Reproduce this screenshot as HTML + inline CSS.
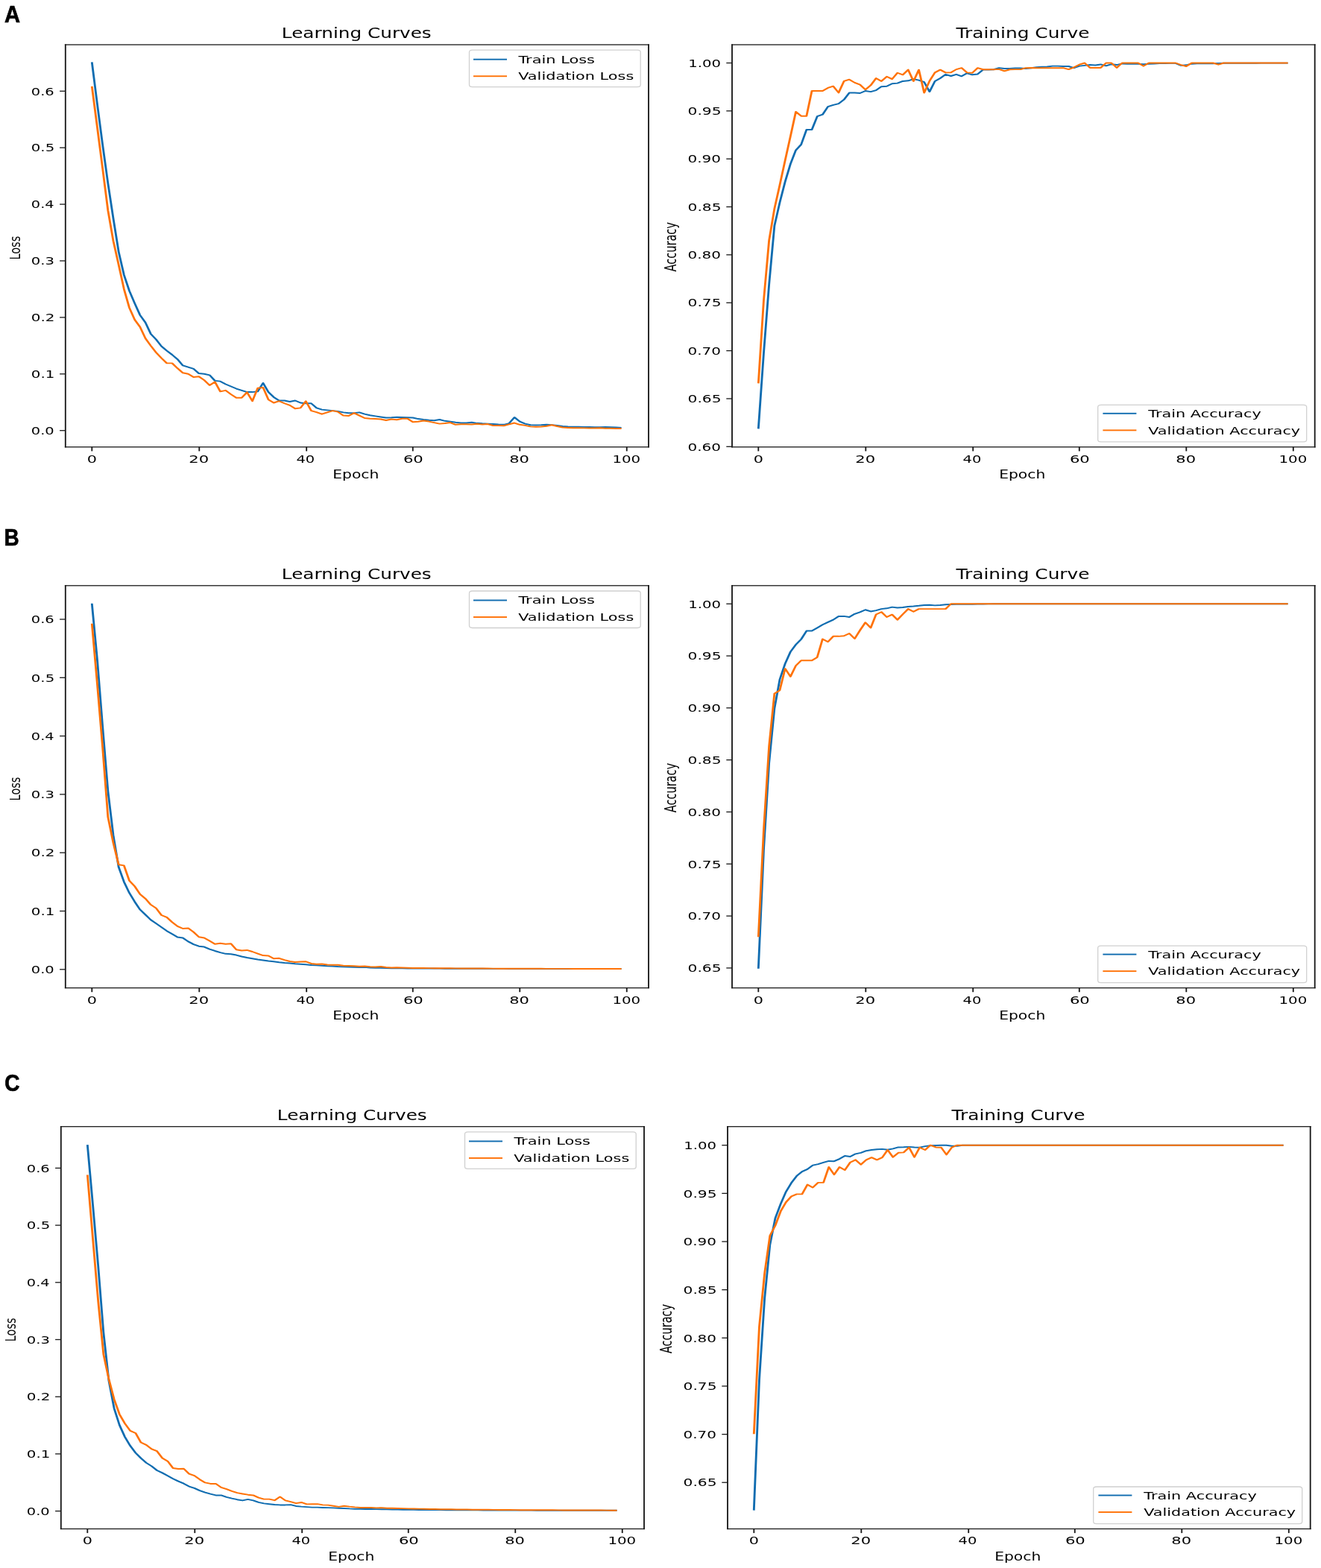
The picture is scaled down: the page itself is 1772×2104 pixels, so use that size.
<!DOCTYPE html>
<html lang="en">
<head>
<meta charset="utf-8">
<title>Learning Curves and Training Curves</title>
<style>
html, body { margin: 0; padding: 0; background: #fff; }
svg { display: block; filter: blur(0.45px); }
svg text { font-family: "DejaVu Sans", "Liberation Sans", sans-serif; fill: #000; }
svg text.lab { font-family: "Liberation Sans", Arial, sans-serif; font-weight: bold; font-size: 31px; stroke: #000; stroke-width: 0.7px; stroke-linejoin: miter; }
</style>
</head>
<body>
<svg width="1772" height="2104" viewBox="0 0 1772 2104">
<rect width="1772" height="2104" fill="#fff"/>
<g>
<g transform="scale(2.85 1.95)" fill="none" stroke-width="1" stroke-linejoin="round" stroke-linecap="butt">
<polyline stroke="#0f6cb0" points="43.26,42.75 45.78,71.67 48.30,99.69 50.82,126.16 53.33,150.29 55.85,173.26 58.37,189.22 60.88,200.12 63.40,208.68 65.92,216.85 68.44,221.91 70.95,229.70 73.47,233.59 75.99,238.26 78.51,241.37 81.02,244.10 83.54,247.21 86.06,251.49 88.58,252.66 91.09,253.83 93.61,256.94 96.13,257.33 98.65,258.11 101.16,262.00 103.68,262.39 106.20,264.34 108.71,265.90 111.23,267.45 113.75,268.62 116.27,269.79 118.78,269.79 121.30,269.40 123.82,263.56 126.34,269.79 128.85,273.29 131.37,275.63 133.89,275.63 136.41,276.41 138.92,275.63 141.44,277.18 143.96,277.57 146.48,277.57 148.99,280.69 151.51,281.85 154.03,282.24 156.54,282.63 159.06,283.02 161.58,283.80 164.10,284.19 166.61,284.19 169.13,283.80 171.65,284.97 174.17,285.75 176.68,286.33 179.20,286.91 181.72,287.46 184.24,287.30 186.75,287.07 189.27,287.19 191.79,287.30 194.31,287.46 196.82,288.24 199.34,288.74 201.86,289.13 204.37,289.37 206.89,288.74 209.41,289.64 211.93,290.15 214.44,290.65 216.96,291.04 219.48,291.04 222.00,290.65 224.51,291.20 227.03,291.43 229.55,291.59 232.07,291.82 234.58,292.05 237.10,292.21 239.62,291.31 242.14,287.19 244.65,290.03 247.17,291.59 249.69,292.44 252.20,292.56 254.72,292.44 257.24,292.21 259.76,292.36 262.27,292.83 264.79,293.34 267.31,293.61 269.83,293.69 272.34,293.73 274.86,293.77 277.38,293.84 279.90,293.92 282.41,293.92 284.93,293.84 287.45,294.00 289.97,294.15 292.48,294.31"/>
<polyline stroke="#ff7207" points="43.26,59.41 45.78,87.63 48.30,116.04 50.82,144.85 53.33,165.86 55.85,182.21 58.37,198.95 60.88,211.79 63.40,219.97 65.92,225.03 68.44,232.81 70.95,237.87 73.47,242.54 75.99,246.43 78.51,249.94 81.02,249.94 83.54,253.44 86.06,256.55 88.58,257.33 91.09,259.47 93.61,259.08 96.13,261.61 98.65,265.12 101.16,262.78 103.68,269.40 106.20,268.62 108.71,271.35 111.23,273.68 113.75,273.68 116.27,269.94 118.78,276.02 121.30,267.06 123.82,266.67 126.34,275.04 128.85,277.18 131.37,276.02 133.89,277.57 136.41,278.90 138.92,281.19 141.44,280.69 143.96,276.02 146.48,282.63 148.99,283.61 151.51,284.97 154.03,283.80 156.54,282.63 159.06,283.41 161.58,285.94 164.10,286.14 166.61,284.19 169.13,285.94 171.65,287.69 174.17,288.08 176.68,288.24 179.20,288.47 181.72,289.25 184.24,288.47 186.75,288.86 189.27,288.08 191.79,288.08 194.31,290.42 196.82,290.15 199.34,289.52 201.86,290.03 204.37,290.81 206.89,291.59 209.41,291.31 211.93,290.81 214.44,292.21 216.96,291.97 219.48,291.97 222.00,292.05 224.51,291.66 227.03,292.05 229.55,291.82 232.07,292.83 234.58,292.83 237.10,292.95 239.62,291.97 242.14,291.04 244.65,292.21 247.17,292.75 249.69,293.53 252.20,293.73 254.72,293.61 257.24,293.22 259.76,292.44 262.27,293.34 264.79,294.12 267.31,294.31 269.83,294.47 272.34,294.50 274.86,294.54 277.38,294.58 279.90,294.62 282.41,294.50 284.93,294.70 287.45,294.78 289.97,294.86 292.48,294.89"/>
</g>
<rect x="86.88" y="59.35" width="1.85" height="541.1" fill="#1a1a1a"/>
<rect x="869.08" y="59.35" width="1.85" height="541.1" fill="#1a1a1a"/>
<rect x="86.88" y="59.35" width="784.05" height="1.3" fill="#1a1a1a"/>
<rect x="86.88" y="599.15" width="784.05" height="1.3" fill="#1a1a1a"/>
<rect x="122.38" y="599.8" width="1.85" height="5.6" fill="#1a1a1a"/>
<text transform="translate(116.72 620.7) scale(1.4950 0.9901)" font-size="13.89">0</text>
<rect x="266.37" y="599.8" width="1.85" height="5.6" fill="#1a1a1a"/>
<text transform="translate(253.31 620.7) scale(1.5234 0.9901)" font-size="13.89">20</text>
<rect x="410.25" y="599.8" width="1.85" height="5.6" fill="#1a1a1a"/>
<text transform="translate(397.48 620.7) scale(1.4023 0.9901)" font-size="13.89">40</text>
<rect x="552.85" y="599.8" width="1.85" height="5.6" fill="#1a1a1a"/>
<text transform="translate(540.89 620.7) scale(1.5234 0.9901)" font-size="13.89">60</text>
<rect x="696.34" y="599.8" width="1.85" height="5.6" fill="#1a1a1a"/>
<text transform="translate(683.23 620.7) scale(1.5144 0.9901)" font-size="13.89">80</text>
<rect x="839.83" y="599.8" width="1.85" height="5.6" fill="#1a1a1a"/>
<text transform="translate(821.42 620.7) scale(1.4262 0.9901)" font-size="13.89">100</text>
<rect x="80.1" y="577.05" width="7.7" height="1.3" fill="#1a1a1a"/>
<text transform="translate(41.83 582.9) scale(1.3993 0.9901)" font-size="13.89">0.0</text>
<rect x="80.1" y="501.15" width="7.7" height="1.3" fill="#1a1a1a"/>
<text transform="translate(41.8 507) scale(1.4277 0.9901)" font-size="13.89">0.1</text>
<rect x="80.1" y="425.25" width="7.7" height="1.3" fill="#1a1a1a"/>
<text transform="translate(41.79 431.1) scale(1.4352 0.9901)" font-size="13.89">0.2</text>
<rect x="80.1" y="349.35" width="7.7" height="1.3" fill="#1a1a1a"/>
<text transform="translate(41.83 355.2) scale(1.4128 0.9901)" font-size="13.89">0.3</text>
<rect x="80.1" y="273.45" width="7.7" height="1.3" fill="#1a1a1a"/>
<text transform="translate(41.85 279.3) scale(1.3918 0.9901)" font-size="13.89">0.4</text>
<rect x="80.1" y="197.55" width="7.7" height="1.3" fill="#1a1a1a"/>
<text transform="translate(41.82 203.4) scale(1.4203 0.9901)" font-size="13.89">0.5</text>
<rect x="80.1" y="121.65" width="7.7" height="1.3" fill="#1a1a1a"/>
<text transform="translate(41.83 127.5) scale(1.3993 0.9901)" font-size="13.89">0.6</text>
<text transform="translate(377.83 50.8) scale(1.4830 1.1627)" font-size="16.67">Learning Curves</text>
<text transform="translate(446.22 642.4) scale(1.4606 1.0785)" font-size="13.89">Epoch</text>
<text transform="translate(27.3 348.62) rotate(-90) scale(1.0459 1.4516)" font-size="13.89">Loss</text>
<rect x="629.5" y="67.2" width="229.7" height="49.5" rx="4.1" ry="2.9" fill="#fff" fill-opacity="0.8" stroke="#d0d0d0" stroke-width="1.3"/>
<rect x="635" y="78.75" width="45" height="1.9" fill="#0f6cb0"/>
<text transform="translate(695.4 84.6) scale(1.5055 1.0174)" font-size="13.89">Train Loss</text>
<rect x="635" y="101.3" width="45" height="1.9" fill="#ff7207"/>
<text transform="translate(695.25 107.15) scale(1.4995 1.0174)" font-size="13.89">Validation Loss</text>
</g>
<g>
<g transform="scale(2.85 1.95)" fill="none" stroke-width="1" stroke-linejoin="round" stroke-linecap="butt">
<polyline stroke="#0f6cb0" points="356.95,295.06 359.46,242.92 361.98,195.79 364.50,155.47 367.02,139.30 369.54,124.98 372.05,112.83 374.57,103.39 377.09,99.43 379.61,89.27 382.12,89.27 384.64,80.10 387.16,78.84 389.68,73.43 392.19,72.24 394.71,71.32 397.23,68.55 399.75,63.86 402.26,63.86 404.78,64.12 407.30,62.54 409.82,63.13 412.33,62.14 414.85,59.57 417.37,59.37 419.89,57.59 422.40,57.26 424.92,55.87 427.44,55.54 429.96,54.42 432.47,55.21 434.99,56.53 437.51,63.13 440.03,55.87 442.54,53.83 445.06,51.19 447.58,52.31 450.10,51.19 452.61,52.44 455.13,50.40 457.65,51.45 460.17,50.99 462.68,48.02 465.20,48.02 467.72,47.82 470.24,46.77 472.75,47.16 475.27,47.16 477.79,46.90 480.31,46.90 482.82,47.16 485.34,46.77 487.86,46.30 490.38,46.04 492.89,45.91 495.41,45.45 497.93,45.45 500.45,45.64 502.96,45.64 505.48,46.77 508.00,45.45 510.52,45.05 513.04,44.65 515.55,44.85 518.07,44.32 520.59,45.31 523.11,44.19 525.62,44.65 528.14,43.80 530.66,43.99 533.18,43.99 535.69,43.99 538.21,44.19 540.73,43.93 543.25,43.80 545.76,43.66 548.28,43.60 550.80,43.53 553.32,43.53 555.83,45.05 558.35,44.79 560.87,43.93 563.39,43.73 565.90,43.73 568.42,43.73 570.94,43.73 573.46,43.53 575.97,43.47 578.49,43.47 581.01,43.47 583.53,43.47 586.04,43.47 588.56,43.47 591.08,43.47 593.60,43.40 596.11,43.40 598.63,43.40 601.15,43.40 603.67,43.40 606.18,43.40"/>
<polyline stroke="#ff7207" points="356.95,263.77 359.46,206.68 361.98,165.43 364.50,143.65 367.02,127.29 369.54,110.32 372.05,93.76 374.57,76.93 377.09,79.83 379.61,79.83 382.12,62.54 384.64,62.54 387.16,62.54 389.68,60.49 392.19,59.31 394.71,63.79 397.23,55.87 399.75,54.69 402.26,56.86 404.78,58.25 407.30,61.68 409.82,58.71 412.33,53.83 414.85,55.87 417.37,52.71 419.89,54.42 422.40,50.13 424.92,51.45 427.44,48.02 429.96,55.87 432.47,48.02 434.99,63.86 437.51,55.74 440.03,49.93 442.54,48.02 445.06,49.93 447.58,49.93 450.10,47.76 452.61,46.77 455.13,49.93 457.65,50.13 460.17,46.77 462.68,47.82 465.20,47.82 467.72,47.82 470.24,47.62 472.75,48.88 475.27,47.82 477.79,47.76 480.31,47.76 482.82,46.77 485.34,46.63 487.86,46.77 490.38,46.77 492.89,46.77 495.41,46.77 497.93,46.77 500.45,46.77 502.96,47.76 505.48,46.30 508.00,44.46 510.52,43.33 513.04,46.63 515.55,46.63 518.07,46.63 520.59,43.33 523.11,43.33 525.62,46.63 528.14,43.33 530.66,43.33 533.18,43.33 535.69,43.33 538.21,45.45 540.73,43.33 543.25,43.33 545.76,43.33 548.28,43.33 550.80,43.33 553.32,43.33 555.83,44.65 558.35,45.64 560.87,43.33 563.39,43.33 565.90,43.33 568.42,43.33 570.94,43.33 573.46,44.46 575.97,43.33 578.49,43.33 581.01,43.33 583.53,43.33 586.04,43.33 588.56,43.33 591.08,43.33 593.60,43.33 596.11,43.33 598.63,43.33 601.15,43.33 603.67,43.33 606.18,43.33"/>
</g>
<rect x="981.08" y="59.35" width="1.85" height="541.1" fill="#1a1a1a"/>
<rect x="1762.78" y="59.35" width="1.85" height="541.1" fill="#1a1a1a"/>
<rect x="981.08" y="59.35" width="783.55" height="1.3" fill="#1a1a1a"/>
<rect x="981.08" y="599.15" width="783.55" height="1.3" fill="#1a1a1a"/>
<rect x="1016.38" y="599.8" width="1.85" height="5.6" fill="#1a1a1a"/>
<text transform="translate(1010.72 620.7) scale(1.4950 0.9901)" font-size="13.89">0</text>
<rect x="1160.38" y="599.8" width="1.85" height="5.6" fill="#1a1a1a"/>
<text transform="translate(1147.32 620.7) scale(1.5234 0.9901)" font-size="13.89">20</text>
<rect x="1304.28" y="599.8" width="1.85" height="5.6" fill="#1a1a1a"/>
<text transform="translate(1291.5 620.7) scale(1.4023 0.9901)" font-size="13.89">40</text>
<rect x="1446.88" y="599.8" width="1.85" height="5.6" fill="#1a1a1a"/>
<text transform="translate(1434.92 620.7) scale(1.5234 0.9901)" font-size="13.89">60</text>
<rect x="1590.38" y="599.8" width="1.85" height="5.6" fill="#1a1a1a"/>
<text transform="translate(1577.27 620.7) scale(1.5144 0.9901)" font-size="13.89">80</text>
<rect x="1733.88" y="599.8" width="1.85" height="5.6" fill="#1a1a1a"/>
<text transform="translate(1715.47 620.7) scale(1.4262 0.9901)" font-size="13.89">100</text>
<rect x="974.3" y="598.65" width="7.7" height="1.3" fill="#1a1a1a"/>
<text transform="translate(922.55 604.5) scale(1.4382 0.9901)" font-size="13.89">0.60</text>
<rect x="974.3" y="534.3" width="7.7" height="1.3" fill="#1a1a1a"/>
<text transform="translate(922.54 540.15) scale(1.4531 0.9901)" font-size="13.89">0.65</text>
<rect x="974.3" y="469.95" width="7.7" height="1.3" fill="#1a1a1a"/>
<text transform="translate(922.55 475.8) scale(1.4382 0.9901)" font-size="13.89">0.70</text>
<rect x="974.3" y="405.6" width="7.7" height="1.3" fill="#1a1a1a"/>
<text transform="translate(922.54 411.45) scale(1.4531 0.9901)" font-size="13.89">0.75</text>
<rect x="974.3" y="341.25" width="7.7" height="1.3" fill="#1a1a1a"/>
<text transform="translate(922.55 347.1) scale(1.4382 0.9901)" font-size="13.89">0.80</text>
<rect x="974.3" y="276.9" width="7.7" height="1.3" fill="#1a1a1a"/>
<text transform="translate(922.54 282.75) scale(1.4531 0.9901)" font-size="13.89">0.85</text>
<rect x="974.3" y="212.55" width="7.7" height="1.3" fill="#1a1a1a"/>
<text transform="translate(922.55 218.4) scale(1.4382 0.9901)" font-size="13.89">0.90</text>
<rect x="974.3" y="148.2" width="7.7" height="1.3" fill="#1a1a1a"/>
<text transform="translate(922.54 154.05) scale(1.4531 0.9901)" font-size="13.89">0.95</text>
<rect x="974.3" y="83.85" width="7.7" height="1.3" fill="#1a1a1a"/>
<text transform="translate(923.23 89.7) scale(1.4158 0.9901)" font-size="13.89">1.00</text>
<text transform="translate(1282.44 50.8) scale(1.4905 1.1627)" font-size="16.67">Training Curve</text>
<text transform="translate(1340.17 642.4) scale(1.4606 1.0785)" font-size="13.89">Epoch</text>
<text transform="translate(906.8 364.4) rotate(-90) scale(1.0459 1.4950)" font-size="13.89">Accuracy</text>
<rect x="1472.7" y="543.3" width="280" height="49.6" rx="4.1" ry="2.9" fill="#fff" fill-opacity="0.8" stroke="#d0d0d0" stroke-width="1.3"/>
<rect x="1479.4" y="553.85" width="45" height="1.9" fill="#0f6cb0"/>
<text transform="translate(1540.3 560.1) scale(1.4995 1.0353)" font-size="13.89">Train Accuracy</text>
<rect x="1479.4" y="576.4" width="45" height="1.9" fill="#ff7207"/>
<text transform="translate(1540.15 582.65) scale(1.4965 1.0353)" font-size="13.89">Validation Accuracy</text>
</g>
<g>
<g transform="scale(2.85 1.95)" fill="none" stroke-width="1" stroke-linejoin="round" stroke-linecap="butt">
<polyline stroke="#0f6cb0" points="43.26,415.27 45.78,454.06 48.30,500.04 50.82,544.37 53.33,574.84 55.85,596.69 58.37,606.85 60.88,614.48 63.40,620.50 65.92,625.92 68.44,629.45 70.95,632.95 73.47,635.44 75.99,638.01 78.51,640.58 81.02,642.70 83.54,644.87 86.06,645.39 88.58,647.88 91.09,649.81 93.61,651.14 96.13,651.58 98.65,653.10 101.16,654.35 103.68,655.43 106.20,656.32 108.71,656.56 111.23,657.20 113.75,658.20 116.27,658.97 118.78,659.61 121.30,660.25 123.82,660.77 126.34,661.29 128.85,661.66 131.37,662.18 133.89,662.58 136.41,662.82 138.92,663.22 141.44,663.46 143.96,663.70 146.48,664.11 148.99,664.23 151.51,664.51 154.03,664.75 156.54,664.87 159.06,665.11 161.58,665.27 164.10,665.39 166.61,665.51 169.13,665.63 171.65,665.51 174.17,665.87 176.68,666.03 179.20,666.03 181.72,666.15 184.24,666.27 186.75,666.30 189.27,666.33 191.79,666.36 194.31,666.39 196.82,666.41 199.34,666.43 201.86,666.44 204.37,666.46 206.89,666.47 209.41,666.49 211.93,666.51 214.44,666.52 216.96,666.54 219.48,666.55 222.00,666.56 224.51,666.57 227.03,666.58 229.55,666.59 232.07,666.60 234.58,666.60 237.10,666.61 239.62,666.62 242.14,666.63 244.65,666.64 247.17,666.64 249.69,666.64 252.20,666.64 254.72,666.64 257.24,666.65 259.76,666.65 262.27,666.65 264.79,666.65 267.31,666.65 269.83,666.66 272.34,666.66 274.86,666.66 277.38,666.66 279.90,666.66 282.41,666.67 284.93,666.67 287.45,666.67 289.97,666.67 292.48,666.68"/>
<polyline stroke="#ff7207" points="43.26,429.09 45.78,470.72 48.30,514.49 50.82,562.28 53.33,580.02 55.85,595.00 58.37,595.60 60.88,606.04 63.40,609.86 65.92,615.28 68.44,618.37 70.95,622.51 73.47,624.92 75.99,629.73 78.51,631.18 81.02,634.55 83.54,637.40 86.06,638.97 88.58,638.69 91.09,641.38 93.61,644.75 96.13,645.39 98.65,647.44 101.16,649.61 103.68,649.09 106.20,649.61 108.71,649.37 111.23,653.46 113.75,654.11 116.27,653.83 118.78,654.87 121.30,656.16 123.82,657.44 126.34,657.68 128.85,659.61 131.37,659.37 133.89,660.53 136.41,661.54 138.92,662.06 141.44,661.78 143.96,661.66 146.48,663.06 148.99,663.46 151.51,663.34 154.03,663.86 156.54,663.99 159.06,663.99 161.58,664.51 164.10,664.63 166.61,664.75 169.13,664.99 171.65,664.87 174.17,665.27 176.68,665.39 179.20,665.11 181.72,665.63 184.24,665.87 186.75,665.75 189.27,665.87 191.79,666.03 194.31,666.15 196.82,666.18 199.34,666.20 201.86,666.23 204.37,666.25 206.89,666.27 209.41,666.30 211.93,666.32 214.44,666.35 216.96,666.37 219.48,666.39 222.00,666.41 224.51,666.43 227.03,666.44 229.55,666.46 232.07,666.47 234.58,666.49 237.10,666.51 239.62,666.52 242.14,666.54 244.65,666.55 247.17,666.56 249.69,666.57 252.20,666.57 254.72,666.58 257.24,666.59 259.76,666.59 262.27,666.60 264.79,666.61 267.31,666.61 269.83,666.62 272.34,666.62 274.86,666.63 277.38,666.64 279.90,666.64 282.41,666.65 284.93,666.66 287.45,666.66 289.97,666.67 292.48,666.68"/>
</g>
<rect x="86.88" y="785.15" width="1.85" height="541.1" fill="#1a1a1a"/>
<rect x="869.08" y="785.15" width="1.85" height="541.1" fill="#1a1a1a"/>
<rect x="86.88" y="785.15" width="784.05" height="1.3" fill="#1a1a1a"/>
<rect x="86.88" y="1324.95" width="784.05" height="1.3" fill="#1a1a1a"/>
<rect x="122.38" y="1325.6" width="1.85" height="5.6" fill="#1a1a1a"/>
<text transform="translate(116.72 1346.5) scale(1.4950 0.9901)" font-size="13.89">0</text>
<rect x="266.37" y="1325.6" width="1.85" height="5.6" fill="#1a1a1a"/>
<text transform="translate(253.31 1346.5) scale(1.5234 0.9901)" font-size="13.89">20</text>
<rect x="410.25" y="1325.6" width="1.85" height="5.6" fill="#1a1a1a"/>
<text transform="translate(397.48 1346.5) scale(1.4023 0.9901)" font-size="13.89">40</text>
<rect x="552.85" y="1325.6" width="1.85" height="5.6" fill="#1a1a1a"/>
<text transform="translate(540.89 1346.5) scale(1.5234 0.9901)" font-size="13.89">60</text>
<rect x="696.34" y="1325.6" width="1.85" height="5.6" fill="#1a1a1a"/>
<text transform="translate(683.23 1346.5) scale(1.5144 0.9901)" font-size="13.89">80</text>
<rect x="839.83" y="1325.6" width="1.85" height="5.6" fill="#1a1a1a"/>
<text transform="translate(821.42 1346.5) scale(1.4262 0.9901)" font-size="13.89">100</text>
<rect x="80.1" y="1300.15" width="7.7" height="1.3" fill="#1a1a1a"/>
<text transform="translate(41.83 1306) scale(1.3993 0.9901)" font-size="13.89">0.0</text>
<rect x="80.1" y="1221.85" width="7.7" height="1.3" fill="#1a1a1a"/>
<text transform="translate(41.8 1227.7) scale(1.4277 0.9901)" font-size="13.89">0.1</text>
<rect x="80.1" y="1143.55" width="7.7" height="1.3" fill="#1a1a1a"/>
<text transform="translate(41.79 1149.4) scale(1.4352 0.9901)" font-size="13.89">0.2</text>
<rect x="80.1" y="1065.25" width="7.7" height="1.3" fill="#1a1a1a"/>
<text transform="translate(41.83 1071.1) scale(1.4128 0.9901)" font-size="13.89">0.3</text>
<rect x="80.1" y="986.95" width="7.7" height="1.3" fill="#1a1a1a"/>
<text transform="translate(41.85 992.8) scale(1.3918 0.9901)" font-size="13.89">0.4</text>
<rect x="80.1" y="908.65" width="7.7" height="1.3" fill="#1a1a1a"/>
<text transform="translate(41.82 914.5) scale(1.4203 0.9901)" font-size="13.89">0.5</text>
<rect x="80.1" y="830.35" width="7.7" height="1.3" fill="#1a1a1a"/>
<text transform="translate(41.83 836.2) scale(1.3993 0.9901)" font-size="13.89">0.6</text>
<text transform="translate(377.83 776.6) scale(1.4830 1.1627)" font-size="16.67">Learning Curves</text>
<text transform="translate(446.22 1368.2) scale(1.4606 1.0785)" font-size="13.89">Epoch</text>
<text transform="translate(27.3 1074.42) rotate(-90) scale(1.0459 1.4516)" font-size="13.89">Loss</text>
<rect x="629.5" y="793" width="229.7" height="49.5" rx="4.1" ry="2.9" fill="#fff" fill-opacity="0.8" stroke="#d0d0d0" stroke-width="1.3"/>
<rect x="635" y="804.55" width="45" height="1.9" fill="#0f6cb0"/>
<text transform="translate(695.4 810.4) scale(1.5055 1.0174)" font-size="13.89">Train Loss</text>
<rect x="635" y="827.1" width="45" height="1.9" fill="#ff7207"/>
<text transform="translate(695.25 832.95) scale(1.4995 1.0174)" font-size="13.89">Validation Loss</text>
</g>
<g>
<g transform="scale(2.85 1.95)" fill="none" stroke-width="1" stroke-linejoin="round" stroke-linecap="butt">
<polyline stroke="#0f6cb0" points="356.95,666.53 359.46,584.71 361.98,525.00 364.50,487.63 367.02,467.51 369.54,456.63 372.05,448.54 374.57,443.60 377.09,439.88 379.61,434.15 382.12,434.15 384.64,432.00 387.16,429.86 389.68,428.14 392.19,426.49 394.71,424.13 397.23,424.06 399.75,424.63 402.26,422.48 404.78,421.19 407.30,419.62 409.82,420.76 412.33,420.05 414.85,419.05 417.37,418.62 419.89,417.76 422.40,418.19 424.92,417.97 427.44,417.40 429.96,417.19 432.47,416.83 434.99,416.40 437.51,416.33 440.03,416.61 442.54,416.40 445.06,416.04 447.58,415.90 450.10,415.82 452.61,415.82 455.13,415.82 457.65,415.75 460.17,415.61 462.68,415.59 465.20,415.57 467.72,415.56 470.24,415.54 472.75,415.54 475.27,415.54 477.79,415.54 480.31,415.54 482.82,415.54 485.34,415.54 487.86,415.54 490.38,415.54 492.89,415.54 495.41,415.54 497.93,415.54 500.45,415.54 502.96,415.54 505.48,415.54 508.00,415.54 510.52,415.54 513.04,415.54 515.55,415.54 518.07,415.54 520.59,415.54 523.11,415.54 525.62,415.54 528.14,415.54 530.66,415.54 533.18,415.54 535.69,415.54 538.21,415.54 540.73,415.54 543.25,415.54 545.76,415.54 548.28,415.54 550.80,415.54 553.32,415.54 555.83,415.54 558.35,415.54 560.87,415.54 563.39,415.54 565.90,415.54 568.42,415.54 570.94,415.54 573.46,415.54 575.97,415.54 578.49,415.54 581.01,415.54 583.53,415.54 586.04,415.54 588.56,415.54 591.08,415.54 593.60,415.54 596.11,415.54 598.63,415.54 601.15,415.54 603.67,415.54 606.18,415.54"/>
<polyline stroke="#ff7207" points="356.95,644.70 359.46,570.89 361.98,513.47 364.50,477.32 367.02,474.96 369.54,460.07 372.05,465.58 374.57,458.06 377.09,454.48 379.61,454.48 382.12,454.48 384.64,452.26 387.16,439.74 389.68,441.67 392.19,437.87 394.71,437.87 397.23,437.59 399.75,435.87 402.26,439.52 404.78,433.72 407.30,428.35 409.82,432.00 412.33,422.84 414.85,421.12 417.37,424.63 419.89,422.91 422.40,426.49 424.92,422.70 427.44,419.05 429.96,420.91 432.47,419.05 434.99,419.05 437.51,419.05 440.03,419.05 442.54,419.05 445.06,419.05 447.58,415.54 450.10,415.54 452.61,415.54 455.13,415.54 457.65,415.54 460.17,415.54 462.68,415.54 465.20,415.54 467.72,415.54 470.24,415.54 472.75,415.54 475.27,415.54 477.79,415.54 480.31,415.54 482.82,415.54 485.34,415.54 487.86,415.54 490.38,415.54 492.89,415.54 495.41,415.54 497.93,415.54 500.45,415.54 502.96,415.54 505.48,415.54 508.00,415.54 510.52,415.54 513.04,415.54 515.55,415.54 518.07,415.54 520.59,415.54 523.11,415.54 525.62,415.54 528.14,415.54 530.66,415.54 533.18,415.54 535.69,415.54 538.21,415.54 540.73,415.54 543.25,415.54 545.76,415.54 548.28,415.54 550.80,415.54 553.32,415.54 555.83,415.54 558.35,415.54 560.87,415.54 563.39,415.54 565.90,415.54 568.42,415.54 570.94,415.54 573.46,415.54 575.97,415.54 578.49,415.54 581.01,415.54 583.53,415.54 586.04,415.54 588.56,415.54 591.08,415.54 593.60,415.54 596.11,415.54 598.63,415.54 601.15,415.54 603.67,415.54 606.18,415.54"/>
</g>
<rect x="981.08" y="785.15" width="1.85" height="541.1" fill="#1a1a1a"/>
<rect x="1762.78" y="785.15" width="1.85" height="541.1" fill="#1a1a1a"/>
<rect x="981.08" y="785.15" width="783.55" height="1.3" fill="#1a1a1a"/>
<rect x="981.08" y="1324.95" width="783.55" height="1.3" fill="#1a1a1a"/>
<rect x="1016.38" y="1325.6" width="1.85" height="5.6" fill="#1a1a1a"/>
<text transform="translate(1010.72 1346.5) scale(1.4950 0.9901)" font-size="13.89">0</text>
<rect x="1160.38" y="1325.6" width="1.85" height="5.6" fill="#1a1a1a"/>
<text transform="translate(1147.32 1346.5) scale(1.5234 0.9901)" font-size="13.89">20</text>
<rect x="1304.28" y="1325.6" width="1.85" height="5.6" fill="#1a1a1a"/>
<text transform="translate(1291.5 1346.5) scale(1.4023 0.9901)" font-size="13.89">40</text>
<rect x="1446.88" y="1325.6" width="1.85" height="5.6" fill="#1a1a1a"/>
<text transform="translate(1434.92 1346.5) scale(1.5234 0.9901)" font-size="13.89">60</text>
<rect x="1590.38" y="1325.6" width="1.85" height="5.6" fill="#1a1a1a"/>
<text transform="translate(1577.27 1346.5) scale(1.5144 0.9901)" font-size="13.89">80</text>
<rect x="1733.88" y="1325.6" width="1.85" height="5.6" fill="#1a1a1a"/>
<text transform="translate(1715.47 1346.5) scale(1.4262 0.9901)" font-size="13.89">100</text>
<rect x="974.3" y="1298.25" width="7.7" height="1.3" fill="#1a1a1a"/>
<text transform="translate(922.54 1304.1) scale(1.4531 0.9901)" font-size="13.89">0.65</text>
<rect x="974.3" y="1228.45" width="7.7" height="1.3" fill="#1a1a1a"/>
<text transform="translate(922.55 1234.3) scale(1.4382 0.9901)" font-size="13.89">0.70</text>
<rect x="974.3" y="1158.65" width="7.7" height="1.3" fill="#1a1a1a"/>
<text transform="translate(922.54 1164.5) scale(1.4531 0.9901)" font-size="13.89">0.75</text>
<rect x="974.3" y="1088.85" width="7.7" height="1.3" fill="#1a1a1a"/>
<text transform="translate(922.55 1094.7) scale(1.4382 0.9901)" font-size="13.89">0.80</text>
<rect x="974.3" y="1019.05" width="7.7" height="1.3" fill="#1a1a1a"/>
<text transform="translate(922.54 1024.9) scale(1.4531 0.9901)" font-size="13.89">0.85</text>
<rect x="974.3" y="949.25" width="7.7" height="1.3" fill="#1a1a1a"/>
<text transform="translate(922.55 955.1) scale(1.4382 0.9901)" font-size="13.89">0.90</text>
<rect x="974.3" y="879.45" width="7.7" height="1.3" fill="#1a1a1a"/>
<text transform="translate(922.54 885.3) scale(1.4531 0.9901)" font-size="13.89">0.95</text>
<rect x="974.3" y="809.65" width="7.7" height="1.3" fill="#1a1a1a"/>
<text transform="translate(923.23 815.5) scale(1.4158 0.9901)" font-size="13.89">1.00</text>
<text transform="translate(1282.44 776.6) scale(1.4905 1.1627)" font-size="16.67">Training Curve</text>
<text transform="translate(1340.17 1368.2) scale(1.4606 1.0785)" font-size="13.89">Epoch</text>
<text transform="translate(906.8 1090.2) rotate(-90) scale(1.0459 1.4950)" font-size="13.89">Accuracy</text>
<rect x="1472.7" y="1269.1" width="280" height="49.6" rx="4.1" ry="2.9" fill="#fff" fill-opacity="0.8" stroke="#d0d0d0" stroke-width="1.3"/>
<rect x="1479.4" y="1279.65" width="45" height="1.9" fill="#0f6cb0"/>
<text transform="translate(1540.3 1285.9) scale(1.4995 1.0353)" font-size="13.89">Train Accuracy</text>
<rect x="1479.4" y="1302.2" width="45" height="1.9" fill="#ff7207"/>
<text transform="translate(1540.15 1308.45) scale(1.4965 1.0353)" font-size="13.89">Validation Accuracy</text>
</g>
<g>
<g transform="scale(2.85 1.95)" fill="none" stroke-width="1" stroke-linejoin="round" stroke-linecap="butt">
<polyline stroke="#0f6cb0" points="41.16,787.75 43.68,828.85 46.19,870.86 48.71,916.88 51.23,950.23 53.74,969.23 56.26,980.72 58.78,988.78 61.30,994.88 63.81,999.71 66.33,1003.41 68.85,1006.60 71.37,1008.92 73.88,1011.79 76.40,1013.52 78.92,1015.49 81.44,1017.53 83.95,1019.30 86.47,1020.84 88.99,1022.88 91.51,1024.06 94.02,1025.71 96.54,1027.01 99.06,1028.03 101.57,1028.94 104.09,1028.94 106.61,1030.20 109.13,1031.10 111.64,1031.89 114.16,1032.52 116.68,1031.73 119.20,1032.52 121.71,1033.78 124.23,1034.56 126.75,1034.96 129.27,1035.35 131.78,1035.59 134.30,1035.59 136.82,1035.47 139.34,1036.37 141.85,1036.73 144.37,1037.00 146.89,1037.24 149.40,1037.24 151.92,1037.40 154.44,1037.51 156.96,1037.63 159.47,1037.79 161.99,1037.91 164.51,1038.14 167.03,1038.30 169.54,1038.36 172.06,1038.42 174.58,1038.47 177.10,1038.52 179.61,1038.58 182.13,1038.64 184.65,1038.70 187.17,1038.76 189.68,1038.83 192.20,1038.89 194.72,1038.91 197.23,1038.94 199.75,1038.96 202.27,1038.98 204.79,1039.01 207.30,1039.03 209.82,1039.06 212.34,1039.08 214.86,1039.10 217.37,1039.13 219.89,1039.14 222.41,1039.16 224.93,1039.17 227.44,1039.19 229.96,1039.20 232.48,1039.22 235.00,1039.24 237.51,1039.25 240.03,1039.27 242.55,1039.28 245.06,1039.29 247.58,1039.30 250.10,1039.30 252.62,1039.31 255.13,1039.31 257.65,1039.32 260.17,1039.33 262.69,1039.33 265.20,1039.34 267.72,1039.35 270.24,1039.35 272.76,1039.36 275.27,1039.36 277.79,1039.37 280.31,1039.38 282.83,1039.38 285.34,1039.39 287.86,1039.40 290.38,1039.40"/>
<polyline stroke="#ff7207" points="41.16,808.48 43.68,851.98 46.19,895.05 48.71,931.82 51.23,949.09 53.74,962.90 56.26,973.24 58.78,979.58 61.30,984.53 63.81,986.14 66.33,992.59 68.85,994.29 71.37,997.08 73.88,998.57 76.40,1003.37 78.92,1005.46 81.44,1010.29 83.95,1010.81 86.47,1010.61 88.99,1014.19 91.51,1015.45 94.02,1018.04 96.54,1020.21 99.06,1020.99 101.57,1020.99 104.09,1023.55 106.61,1024.69 109.13,1026.11 111.64,1027.25 114.16,1027.92 116.68,1028.55 119.20,1028.94 121.71,1030.59 124.23,1031.61 126.75,1031.61 129.27,1032.40 131.78,1029.96 134.30,1032.52 136.82,1033.42 139.34,1034.45 141.85,1033.82 144.37,1035.07 146.89,1034.96 149.40,1034.96 151.92,1035.59 154.44,1035.70 156.96,1036.25 159.47,1036.88 161.99,1036.25 164.51,1036.73 167.03,1037.12 169.54,1037.40 172.06,1037.40 174.58,1037.40 177.10,1037.63 179.61,1037.51 182.13,1037.79 184.65,1037.79 187.17,1037.91 189.68,1038.02 192.20,1038.14 194.72,1038.21 197.23,1038.28 199.75,1038.36 202.27,1038.43 204.79,1038.50 207.30,1038.54 209.82,1038.59 212.34,1038.64 214.86,1038.69 217.37,1038.73 219.89,1038.76 222.41,1038.80 224.93,1038.83 227.44,1038.86 229.96,1038.89 232.48,1038.92 235.00,1038.95 237.51,1038.98 240.03,1039.02 242.55,1039.05 245.06,1039.06 247.58,1039.08 250.10,1039.09 252.62,1039.11 255.13,1039.12 257.65,1039.13 260.17,1039.15 262.69,1039.16 265.20,1039.18 267.72,1039.19 270.24,1039.21 272.76,1039.22 275.27,1039.24 277.79,1039.25 280.31,1039.26 282.83,1039.28 285.34,1039.29 287.86,1039.31 290.38,1039.32"/>
</g>
<rect x="80.88" y="1511.05" width="1.85" height="541.1" fill="#1a1a1a"/>
<rect x="863.08" y="1511.05" width="1.85" height="541.1" fill="#1a1a1a"/>
<rect x="80.88" y="1511.05" width="784.05" height="1.3" fill="#1a1a1a"/>
<rect x="80.88" y="2050.85" width="784.05" height="1.3" fill="#1a1a1a"/>
<rect x="116.38" y="2051.5" width="1.85" height="5.6" fill="#1a1a1a"/>
<text transform="translate(110.72 2072.4) scale(1.4950 0.9901)" font-size="13.89">0</text>
<rect x="260.37" y="2051.5" width="1.85" height="5.6" fill="#1a1a1a"/>
<text transform="translate(247.31 2072.4) scale(1.5234 0.9901)" font-size="13.89">20</text>
<rect x="404.25" y="2051.5" width="1.85" height="5.6" fill="#1a1a1a"/>
<text transform="translate(391.48 2072.4) scale(1.4023 0.9901)" font-size="13.89">40</text>
<rect x="546.85" y="2051.5" width="1.85" height="5.6" fill="#1a1a1a"/>
<text transform="translate(534.89 2072.4) scale(1.5234 0.9901)" font-size="13.89">60</text>
<rect x="690.34" y="2051.5" width="1.85" height="5.6" fill="#1a1a1a"/>
<text transform="translate(677.23 2072.4) scale(1.5144 0.9901)" font-size="13.89">80</text>
<rect x="833.83" y="2051.5" width="1.85" height="5.6" fill="#1a1a1a"/>
<text transform="translate(815.42 2072.4) scale(1.4262 0.9901)" font-size="13.89">100</text>
<rect x="74.1" y="2026.95" width="7.7" height="1.3" fill="#1a1a1a"/>
<text transform="translate(35.83 2032.8) scale(1.3993 0.9901)" font-size="13.89">0.0</text>
<rect x="74.1" y="1950.25" width="7.7" height="1.3" fill="#1a1a1a"/>
<text transform="translate(35.8 1956.1) scale(1.4277 0.9901)" font-size="13.89">0.1</text>
<rect x="74.1" y="1873.55" width="7.7" height="1.3" fill="#1a1a1a"/>
<text transform="translate(35.79 1879.4) scale(1.4352 0.9901)" font-size="13.89">0.2</text>
<rect x="74.1" y="1796.85" width="7.7" height="1.3" fill="#1a1a1a"/>
<text transform="translate(35.83 1802.7) scale(1.4128 0.9901)" font-size="13.89">0.3</text>
<rect x="74.1" y="1720.15" width="7.7" height="1.3" fill="#1a1a1a"/>
<text transform="translate(35.85 1726) scale(1.3918 0.9901)" font-size="13.89">0.4</text>
<rect x="74.1" y="1643.45" width="7.7" height="1.3" fill="#1a1a1a"/>
<text transform="translate(35.82 1649.3) scale(1.4203 0.9901)" font-size="13.89">0.5</text>
<rect x="74.1" y="1566.75" width="7.7" height="1.3" fill="#1a1a1a"/>
<text transform="translate(35.83 1572.6) scale(1.3993 0.9901)" font-size="13.89">0.6</text>
<text transform="translate(371.83 1502.5) scale(1.4830 1.1627)" font-size="16.67">Learning Curves</text>
<text transform="translate(440.22 2094.1) scale(1.4606 1.0785)" font-size="13.89">Epoch</text>
<text transform="translate(21.3 1800.32) rotate(-90) scale(1.0459 1.4516)" font-size="13.89">Loss</text>
<rect x="623.5" y="1518.9" width="229.7" height="49.5" rx="4.1" ry="2.9" fill="#fff" fill-opacity="0.8" stroke="#d0d0d0" stroke-width="1.3"/>
<rect x="629" y="1530.45" width="45" height="1.9" fill="#0f6cb0"/>
<text transform="translate(689.4 1536.3) scale(1.5055 1.0174)" font-size="13.89">Train Loss</text>
<rect x="629" y="1553" width="45" height="1.9" fill="#ff7207"/>
<text transform="translate(689.25 1558.85) scale(1.4995 1.0174)" font-size="13.89">Validation Loss</text>
</g>
<g>
<g transform="scale(2.85 1.95)" fill="none" stroke-width="1" stroke-linejoin="round" stroke-linecap="butt">
<polyline stroke="#0f6cb0" points="354.84,1039.29 357.36,949.78 359.88,893.41 362.39,856.55 364.91,838.18 367.43,828.43 369.95,820.01 372.46,813.98 374.98,809.20 377.50,806.22 380.02,804.56 382.54,801.84 385.05,801.11 387.57,799.99 390.09,798.93 392.61,799.06 395.12,797.47 397.64,795.35 400.16,795.88 402.68,794.02 405.19,793.29 407.71,791.90 410.23,791.30 412.75,790.90 415.26,790.70 417.78,791.17 420.30,790.44 422.82,789.44 425.33,789.38 427.85,789.18 430.37,789.44 432.89,789.58 435.40,788.78 437.92,788.32 440.44,788.18 442.96,788.12 445.47,788.12 447.99,788.58 450.51,788.58 453.03,788.12 455.54,788.05 458.06,788.05 460.58,788.05 463.10,788.05 465.61,788.05 468.13,788.05 470.65,788.05 473.17,788.05 475.68,788.05 478.20,788.05 480.72,788.05 483.24,788.05 485.75,788.05 488.27,788.05 490.79,788.05 493.31,788.05 495.82,788.05 498.34,788.05 500.86,788.05 503.38,788.05 505.89,788.05 508.41,788.05 510.93,788.05 513.45,788.05 515.96,788.05 518.48,788.05 521.00,788.05 523.52,788.05 526.04,788.05 528.55,788.05 531.07,788.05 533.59,788.05 536.11,788.05 538.62,788.05 541.14,788.05 543.66,788.05 546.18,788.05 548.69,788.05 551.21,788.05 553.73,788.05 556.25,788.05 558.76,788.05 561.28,788.05 563.80,788.05 566.32,788.05 568.83,788.05 571.35,788.05 573.87,788.05 576.39,788.05 578.90,788.05 581.42,788.05 583.94,788.05 586.46,788.05 588.97,788.05 591.49,788.05 594.01,788.05 596.53,788.05 599.04,788.05 601.56,788.05 604.08,788.05"/>
<polyline stroke="#ff7207" points="354.84,986.84 357.36,912.97 359.88,876.11 362.39,850.25 364.91,843.35 367.43,833.54 369.95,827.24 372.46,823.26 374.98,821.74 377.50,821.74 380.02,815.17 382.54,817.16 385.05,813.78 387.57,813.78 390.09,803.10 392.61,808.28 395.12,803.10 397.64,805.16 400.16,799.85 402.68,798.13 405.19,801.38 407.71,798.13 410.23,796.47 412.75,798.13 415.26,796.47 417.78,791.30 420.30,796.27 422.82,793.22 425.33,793.02 427.85,789.58 430.37,796.27 432.89,789.58 435.40,791.30 437.92,788.05 440.44,789.44 442.96,789.58 445.47,794.55 447.99,789.58 450.51,788.05 453.03,788.05 455.54,788.05 458.06,788.05 460.58,788.05 463.10,788.05 465.61,788.05 468.13,788.05 470.65,788.05 473.17,788.05 475.68,788.05 478.20,788.05 480.72,788.05 483.24,788.05 485.75,788.05 488.27,788.05 490.79,788.05 493.31,788.05 495.82,788.05 498.34,788.05 500.86,788.05 503.38,788.05 505.89,788.05 508.41,788.05 510.93,788.05 513.45,788.05 515.96,788.05 518.48,788.05 521.00,788.05 523.52,788.05 526.04,788.05 528.55,788.05 531.07,788.05 533.59,788.05 536.11,788.05 538.62,788.05 541.14,788.05 543.66,788.05 546.18,788.05 548.69,788.05 551.21,788.05 553.73,788.05 556.25,788.05 558.76,788.05 561.28,788.05 563.80,788.05 566.32,788.05 568.83,788.05 571.35,788.05 573.87,788.05 576.39,788.05 578.90,788.05 581.42,788.05 583.94,788.05 586.46,788.05 588.97,788.05 591.49,788.05 594.01,788.05 596.53,788.05 599.04,788.05 601.56,788.05 604.08,788.05"/>
</g>
<rect x="975.08" y="1511.05" width="1.85" height="541.1" fill="#1a1a1a"/>
<rect x="1756.78" y="1511.05" width="1.85" height="541.1" fill="#1a1a1a"/>
<rect x="975.08" y="1511.05" width="783.55" height="1.3" fill="#1a1a1a"/>
<rect x="975.08" y="2050.85" width="783.55" height="1.3" fill="#1a1a1a"/>
<rect x="1010.38" y="2051.5" width="1.85" height="5.6" fill="#1a1a1a"/>
<text transform="translate(1004.72 2072.4) scale(1.4950 0.9901)" font-size="13.89">0</text>
<rect x="1154.38" y="2051.5" width="1.85" height="5.6" fill="#1a1a1a"/>
<text transform="translate(1141.32 2072.4) scale(1.5234 0.9901)" font-size="13.89">20</text>
<rect x="1298.28" y="2051.5" width="1.85" height="5.6" fill="#1a1a1a"/>
<text transform="translate(1285.5 2072.4) scale(1.4023 0.9901)" font-size="13.89">40</text>
<rect x="1440.88" y="2051.5" width="1.85" height="5.6" fill="#1a1a1a"/>
<text transform="translate(1428.92 2072.4) scale(1.5234 0.9901)" font-size="13.89">60</text>
<rect x="1584.38" y="2051.5" width="1.85" height="5.6" fill="#1a1a1a"/>
<text transform="translate(1571.27 2072.4) scale(1.5144 0.9901)" font-size="13.89">80</text>
<rect x="1727.88" y="2051.5" width="1.85" height="5.6" fill="#1a1a1a"/>
<text transform="translate(1709.47 2072.4) scale(1.4262 0.9901)" font-size="13.89">100</text>
<rect x="968.3" y="1988.6" width="7.7" height="1.3" fill="#1a1a1a"/>
<text transform="translate(916.54 1994.45) scale(1.4531 0.9901)" font-size="13.89">0.65</text>
<rect x="968.3" y="1923.95" width="7.7" height="1.3" fill="#1a1a1a"/>
<text transform="translate(916.55 1929.8) scale(1.4382 0.9901)" font-size="13.89">0.70</text>
<rect x="968.3" y="1859.3" width="7.7" height="1.3" fill="#1a1a1a"/>
<text transform="translate(916.54 1865.15) scale(1.4531 0.9901)" font-size="13.89">0.75</text>
<rect x="968.3" y="1794.65" width="7.7" height="1.3" fill="#1a1a1a"/>
<text transform="translate(916.55 1800.5) scale(1.4382 0.9901)" font-size="13.89">0.80</text>
<rect x="968.3" y="1730" width="7.7" height="1.3" fill="#1a1a1a"/>
<text transform="translate(916.54 1735.85) scale(1.4531 0.9901)" font-size="13.89">0.85</text>
<rect x="968.3" y="1665.35" width="7.7" height="1.3" fill="#1a1a1a"/>
<text transform="translate(916.55 1671.2) scale(1.4382 0.9901)" font-size="13.89">0.90</text>
<rect x="968.3" y="1600.7" width="7.7" height="1.3" fill="#1a1a1a"/>
<text transform="translate(916.54 1606.55) scale(1.4531 0.9901)" font-size="13.89">0.95</text>
<rect x="968.3" y="1536.05" width="7.7" height="1.3" fill="#1a1a1a"/>
<text transform="translate(917.23 1541.9) scale(1.4158 0.9901)" font-size="13.89">1.00</text>
<text transform="translate(1276.44 1502.5) scale(1.4905 1.1627)" font-size="16.67">Training Curve</text>
<text transform="translate(1334.17 2094.1) scale(1.4606 1.0785)" font-size="13.89">Epoch</text>
<text transform="translate(900.8 1816.1) rotate(-90) scale(1.0459 1.4950)" font-size="13.89">Accuracy</text>
<rect x="1466.7" y="1995" width="280" height="49.6" rx="4.1" ry="2.9" fill="#fff" fill-opacity="0.8" stroke="#d0d0d0" stroke-width="1.3"/>
<rect x="1473.4" y="2005.55" width="45" height="1.9" fill="#0f6cb0"/>
<text transform="translate(1534.3 2011.8) scale(1.4995 1.0353)" font-size="13.89">Train Accuracy</text>
<rect x="1473.4" y="2028.1" width="45" height="1.9" fill="#ff7207"/>
<text transform="translate(1534.15 2034.35) scale(1.4965 1.0353)" font-size="13.89">Validation Accuracy</text>
</g>
<text class="lab" transform="translate(6.0 29.8) scale(0.94 1)">A</text>
<text class="lab" transform="translate(5.4 731.7) scale(0.9 1)">B</text>
<text class="lab" transform="translate(6.3 1463.6) scale(0.905 1)">C</text>
</svg>
</body>
</html>
